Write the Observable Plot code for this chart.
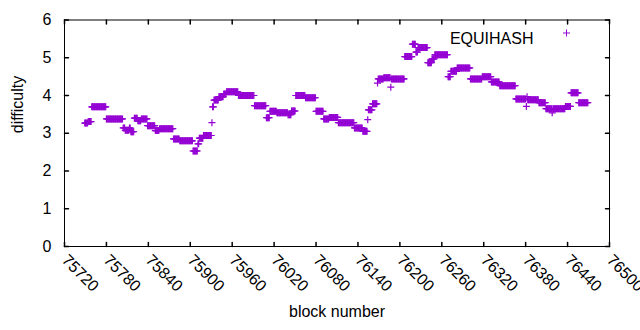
<!DOCTYPE html>
<html>
<head>
<meta charset="utf-8">
<script src="https://cdn.jsdelivr.net/npm/d3@7"></script>
<script src="https://cdn.jsdelivr.net/npm/@observablehq/plot@0.6"></script>
<style>
  html, body { margin: 0; padding: 0; background: #fff; }
</style>
</head>
<body>
<div id="chart"></div>
<script>
// Plateaus of difficulty: first block, last block, value
const runStart = [75749,75754,75759,75780,75804,75807,75813,75815,75820,75825,75830,75839,75850,75856,75876,75885,75904,75911,75913,75919,75931,75932,75934,75941,75948,75952,75969,75992,76009,76014,76024,76040,76045,76051,76065,76080,76091,76099,76112,76135,76147,76154,76155,76161,76168,76169,76177,76187,76188,76207,76218,76223,76226,76240,76246,76250,76269,76273,76282,76301,76318,76331,76343,76366,76381,76382,76383,76399,76409,76418,76419,76437,76445,76456];
const runEnd   = [75753,75758,75779,75803,75806,75812,75814,75819,75824,75829,75838,75849,75855,75875,75884,75903,75910,75912,75918,75930,75931,75933,75940,75947,75951,75968,75991,76008,76013,76023,76039,76044,76050,76064,76079,76090,76098,76111,76134,76146,76153,76154,76160,76167,76168,76176,76186,76187,76206,76217,76222,76225,76239,76245,76249,76268,76272,76281,76300,76317,76330,76342,76365,76380,76381,76382,76398,76408,76417,76418,76436,76444,76455,76469];
const runValue = [3.27,3.31,3.70,3.38,3.14,3.08,3.14,3.04,3.40,3.33,3.38,3.20,3.07,3.12,2.85,2.80,2.53,2.72,2.87,2.94,3.28,3.70,3.88,3.97,4.04,4.10,4.00,3.73,3.41,3.58,3.54,3.49,3.59,4.00,3.94,3.58,3.38,3.42,3.28,3.14,3.05,3.36,3.62,3.78,4.33,4.44,4.47,4.22,4.44,5.03,5.36,5.15,5.27,4.87,4.97,5.08,4.50,4.64,4.73,4.44,4.50,4.36,4.26,3.91,3.71,3.97,3.89,3.81,3.65,3.54,3.65,3.71,4.07,3.81];

const xTicks = [75720,75780,75840,75900,75960,76020,76080,76140,76200,76260,76320,76380,76440,76500];
const yTicks = [0,1,2,3,4,5,6];
const seriesName = "EQUIHASH";

// one record per block
const points = [];
runStart.forEach((s, i) => {
  for (let b = s; b <= runEnd[i]; b++) points.push({block: b, difficulty: runValue[i]});
});

const purple = "#9400d3";
const cross = {
  draw(context, size) {
    const r = Math.sqrt(size / Math.PI);
    context.moveTo(-r, 0); context.lineTo(r, 0);
    context.moveTo(0, -r); context.lineTo(0, r);
  }
};
const tickShape = {
  draw(context, l) { context.moveTo(0, 0); context.lineTo(0, -l); }
};
const tickLen = 4;

const chart = Plot.plot({
  width: 640,
  height: 330,
  marginLeft: 64,
  marginRight: 31,
  marginTop: 19.5,
  marginBottom: 84,
  style: {fontFamily: "'Liberation Sans', Arial, sans-serif", fontSize: "16px", color: "#000", background: "#fff"},
  x: {domain: [75720, 76500]},
  y: {domain: [0, 6]},
  marks: [
    Plot.axisY({ticks: yTicks, tickSize: 0, tickPadding: 13, label: null, tickFormat: d => String(d)}),
    Plot.axisX({ticks: xTicks, tickSize: 0, tickPadding: 11, tickRotate: 45, label: null, tickFormat: d => String(d)}),
    Plot.vector(xTicks, {x: d => d, frameAnchor: "bottom", length: tickLen, rotate: 0, anchor: "start", shape: tickShape, stroke: "#000"}),
    Plot.vector(xTicks, {x: d => d, frameAnchor: "top", length: tickLen, rotate: 180, anchor: "start", shape: tickShape, stroke: "#000"}),
    Plot.vector(yTicks, {y: d => d, frameAnchor: "left", length: tickLen, rotate: 90, anchor: "start", shape: tickShape, stroke: "#000"}),
    Plot.vector(yTicks, {y: d => d, frameAnchor: "right", length: tickLen, rotate: 270, anchor: "start", shape: tickShape, stroke: "#000"}),
    Plot.dot(points, {x: "block", y: "difficulty", r: 3.5, symbol: cross, fill: "none", stroke: purple, strokeWidth: 1.2}),
    Plot.text([seriesName], {frameAnchor: "top-right", dx: -76, dy: 13, textAnchor: "end", fontSize: 16}),
    Plot.dot([seriesName], {frameAnchor: "top-right", dx: -43, dy: 13, r: 3.5, symbol: cross, fill: "none", stroke: purple, strokeWidth: 1}),
    Plot.text(["block number"], {frameAnchor: "bottom", dy: 70, fontSize: 16}),
    Plot.text(["difficulty"], {frameAnchor: "left", dx: -47, rotate: -90, fontSize: 16}),
    Plot.frame({stroke: "#000", strokeWidth: 1})
  ]
});
document.getElementById("chart").appendChild(chart);
</script>
</body>
</html>
